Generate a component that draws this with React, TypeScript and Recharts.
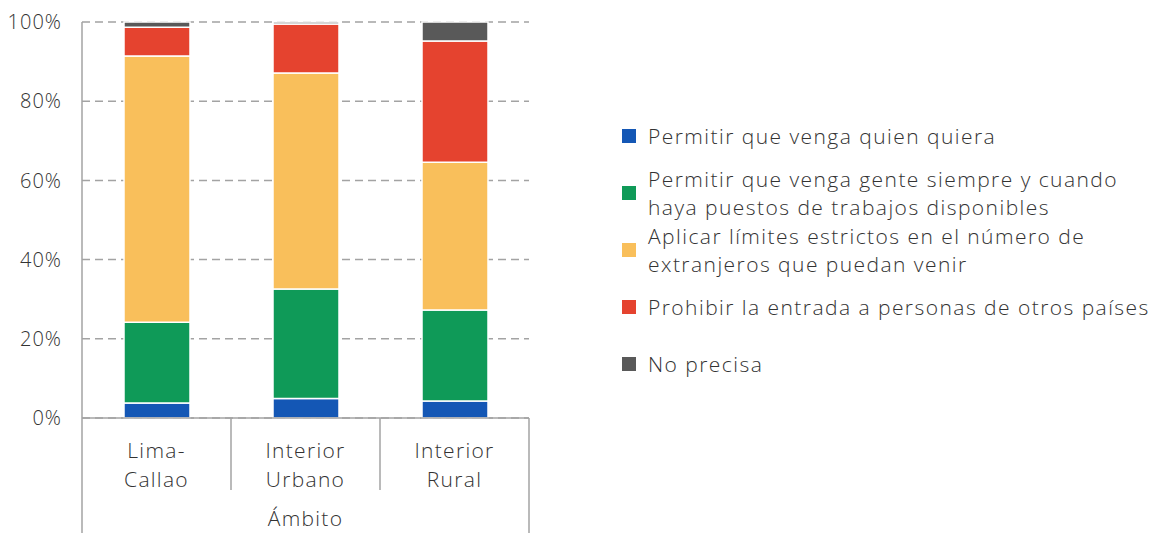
import { Bar, BarChart, CartesianGrid, Legend, XAxis, YAxis } from 'recharts';

const categories = ['Lima-\nCallao', 'Interior\nUrbano', 'Interior\nRural'];
const permitirTodos = [3.8, 4.9, 4.3];
const permitirTrabajo = [20.4, 27.7, 23.0];
const limites = [67.2, 54.5, 37.3];
const prohibir = [7.3, 12.4, 30.6];
const noPrecisa = [1.3, 0.5, 4.8];
const yTicks = [0, 20, 40, 60, 80, 100];

const series = [
  { key: 'todos', name: 'Permitir que venga quien quiera', color: '#1457b5', values: permitirTodos },
  {
    key: 'trabajo',
    name: 'Permitir que venga gente siempre y cuando\nhaya puestos de trabajos disponibles',
    color: '#0f9a58',
    values: permitirTrabajo,
  },
  {
    key: 'limites',
    name: 'Aplicar límites estrictos en el número de\nextranjeros que puedan venir',
    color: '#f9bf5b',
    values: limites,
  },
  { key: 'prohibir', name: 'Prohibir la entrada a personas de otros países', color: '#e5432f', values: prohibir },
  { key: 'np', name: 'No precisa', color: '#595959', values: noPrecisa },
];

const data = categories.map((c, i) => {
  const row: Record<string, string | number> = { cat: c };
  series.forEach((s) => (row[s.key] = s.values[i]));
  return row;
});

const FONT = '"Open Sans", Lato, sans-serif';
const TEXT = '#333333';
const AXIS = '#a3a3a3';

function CategoryTick(props: any) {
  const { x, y, payload, index } = props;
  const half = 74.5;
  const lines = String(payload.value).split('\n');
  return (
    <g>
      <line x1={x - half} x2={x - half} y1={y} y2={index === 0 ? y + 115 : y + 72} stroke={AXIS} strokeWidth={1.5} />
      {index === categories.length - 1 && (
        <line x1={x + half} x2={x + half} y1={y} y2={y + 115} stroke={AXIS} strokeWidth={1.5} />
      )}
      <text
        x={x}
        y={y + 40}
        textAnchor="middle"
        fontSize={21}
        fontWeight={300}
        letterSpacing={1.3}
        fill={TEXT}
        fontFamily={FONT}
      >
        {lines.map((l, i) => (
          <tspan key={i} x={x} dy={i === 0 ? 0 : 29}>
            {l}
          </tspan>
        ))}
      </text>
    </g>
  );
}

function LegendBox() {
  return (
    <div style={{ fontFamily: FONT, color: TEXT, fontSize: 21, fontWeight: 300, letterSpacing: 1.45 }}>
      {series.map((s) => (
        <div key={s.key} style={{ display: 'flex', alignItems: 'center', height: 57 }}>
          <span style={{ width: 14, height: 14, background: s.color, marginRight: 12, flex: 'none' }} />
          <span style={{ whiteSpace: 'pre', lineHeight: '28px' }}>{s.name}</span>
        </div>
      ))}
    </div>
  );
}

export default function App() {
  return (
    <div style={{ position: 'absolute', left: 0, top: 0 }}>
      <BarChart
        width={1154}
        height={533}
        data={data}
        margin={{ top: 22, right: 625, bottom: 0, left: 0 }}
        barSize={66}
      >
        <CartesianGrid vertical={false} stroke={AXIS} strokeDasharray="8 5" strokeWidth={1.5} />
        <XAxis
          dataKey="cat"
          tick={<CategoryTick />}
          tickLine={false}
          tickSize={0}
          tickMargin={0}
          height={115}
          interval={0}
          axisLine={{ stroke: AXIS, strokeWidth: 1.5 }}
          label={{
            value: 'Ámbito',
            position: 'insideBottom',
            offset: 7,
            fontSize: 21,
            fontWeight: 300,
            letterSpacing: 1.3,
            fill: TEXT,
            fontFamily: FONT,
          }}
        />
        <YAxis
          domain={[0, 100]}
          ticks={yTicks}
          tickFormatter={(v) => `${v}%`}
          width={82}
          tickSize={0}
          tickMargin={20}
          tickLine={false}
          axisLine={{ stroke: AXIS, strokeWidth: 1.5 }}
          tick={{ fontSize: 20, fontWeight: 300, letterSpacing: 1, fill: TEXT, fontFamily: FONT }}
        />
        <YAxis
          yAxisId="right"
          orientation="right"
          width={0}
          tick={false}
          tickLine={false}
          axisLine={{ stroke: AXIS, strokeWidth: 1.5 }}
        />
        {series.map((s) => (
          <Bar
            key={s.key}
            dataKey={s.key}
            name={s.name}
            stackId="a"
            fill={s.color}
            stroke="#ffffff"
            strokeWidth={1.5}
            isAnimationActive={false}
          />
        ))}
        <Legend
          layout="vertical"
          align="center"
          verticalAlign="middle"
          content={() => <LegendBox />}
          wrapperStyle={{ position: 'absolute', left: 622, top: 107, width: 532 }}
        />
      </BarChart>
    </div>
  );
}
